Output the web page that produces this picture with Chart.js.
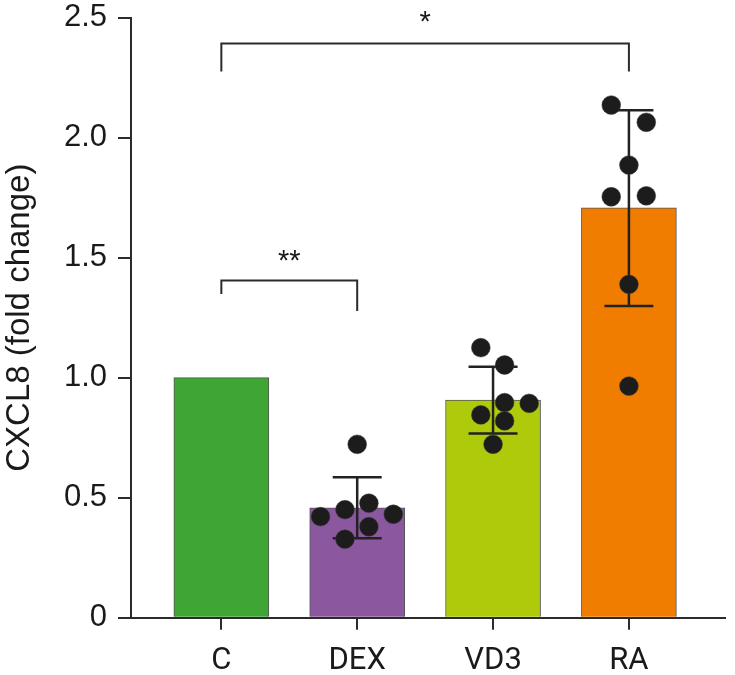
<!DOCTYPE html>
<html><head><meta charset="utf-8">
<script src="https://cdn.jsdelivr.net/npm/chart.js@4.4.1/dist/chart.umd.min.js"></script>
<style>html,body{margin:0;padding:0;background:#fff}#wrap{width:735px;height:675px;position:relative}</style>
</head><body><div id="wrap"><canvas id="c"></canvas></div>
<script>
// ---- data ----
const categories = ['C', 'DEX', 'VD3', 'RA'];
const barMeans = [1.0, 0.458, 0.907, 1.708];
const barColors = ['#3fa535', '#8b579f', '#afca0a', '#f07d00'];
const errHigh = [null, 0.585, 1.046, 2.114];
const errLow = [null, 0.331, 0.768, 1.299];
// individual points: category index, horizontal jitter (category units), value
const dotGroup = [1,1,1,1,1,1,1, 2,2,2,2,2,2,2, 3,3,3,3,3,3,3];
const dotJitter = [0,-0.09,0.086,-0.27,0.266,0.086,-0.09, -0.09,0.085,0.085,0.266,-0.09,0.085,0, -0.13,0.128,0,-0.13,0.128,0,0];
const dotValues = [0.7225,0.45,0.477,0.421,0.431,0.379,0.327, 1.125,1.053,0.896,0.893,0.845,0.82,0.7225, 2.136,2.064,1.886,1.754,1.758,1.389,0.965];
const yTicks = [0, 0.5, 1.0, 1.5, 2.0, 2.5];
// significance brackets
const bracketFrom = [0, 0];
const bracketTo = [3, 1];
const bracketTop = [2.393, 1.405];
const bracketLeftEnd = [2.276, 1.349];
const bracketRightEnd = [2.276, 1.278];
const sigLabels = ['*', '**'];
const sigLabelY = [2.503, 1.511];

// ---- build datasets ----
const barData = categories.map((c, i) => ({ x: i, y: barMeans[i] }));
const dotData = dotValues.map((v, i) => ({ x: dotGroup[i] + dotJitter[i], y: v }));
const bracketSets = bracketFrom.map((f, i) => ({
  type: 'line',
  data: [{ x: f, y: bracketLeftEnd[i] }, { x: f, y: bracketTop[i] }, { x: bracketTo[i], y: bracketTop[i] }, { x: bracketTo[i], y: bracketRightEnd[i] }],
  borderColor: '#2b2b2b', borderWidth: 2, pointRadius: 0, tension: 0, fill: false,
  borderCapStyle: 'butt', borderJoinStyle: 'miter', order: 0, clip: false
}));

const errorBarPlugin = {
  id: 'errbars',
  beforeDatasetDraw(chart, args) {
    if (args.index !== 1) return;
    const { ctx } = chart; const x = chart.scales.x, y = chart.scales.y;
    ctx.save();
    ctx.strokeStyle = '#222'; ctx.lineWidth = 2.5; ctx.lineCap = 'butt';
    categories.forEach((c, i) => {
      if (errHigh[i] == null) return;
      const px = x.getPixelForValue(i), yh = y.getPixelForValue(errHigh[i]), yl = y.getPixelForValue(errLow[i]);
      ctx.beginPath();
      ctx.moveTo(px, yh); ctx.lineTo(px, yl);
      ctx.moveTo(px - 24.5, yh); ctx.lineTo(px + 24.5, yh);
      ctx.moveTo(px - 24.5, yl); ctx.lineTo(px + 24.5, yl);
      ctx.stroke();
    });
    ctx.restore();
  }
};

const sigPlugin = {
  id: 'sig',
  afterDraw(chart) {
    const { ctx } = chart; const x = chart.scales.x, y = chart.scales.y;
    ctx.save();
    ctx.fillStyle = '#1a1a1a';
    ctx.font = '29px "Liberation Sans"';
    ctx.textAlign = 'center'; ctx.textBaseline = 'alphabetic';
    sigLabels.forEach((t, i) => {
      const cx = x.getPixelForValue((bracketFrom[i] + bracketTo[i]) / 2);
      const cy = y.getPixelForValue(sigLabelY[i]);
      const m = ctx.measureText(t);
      const off = (m.actualBoundingBoxAscent - m.actualBoundingBoxDescent) / 2;
      ctx.fillText(t, cx, cy + off);
    });
    ctx.restore();
  }
};

new Chart(document.getElementById('c'), {
  type: 'bar',
  data: {
    datasets: [
      { type: 'bar', data: barData, backgroundColor: barColors, borderColor: '#555', borderWidth: 1, barThickness: 95, order: 3 },
      { type: 'scatter', data: dotData, backgroundColor: '#1c1c1c', borderColor: '#3a3a3a', borderWidth: 0.5, pointRadius: 9.4, order: 1, clip: false },
      ...bracketSets
    ]
  },
  options: {
    responsive: true, maintainAspectRatio: false, animation: false,
    layout: { padding: { top: 17.7, left: 0, right: 0, bottom: 0 } },
    plugins: { legend: { display: false }, tooltip: { enabled: false } },
    scales: {
      x: {
        type: 'linear', min: -0.665, max: 3.708, offset: false,
        afterBuildTicks: s => { s.ticks = categories.map((_, i) => ({ value: i })); },
        afterFit: s => { s.height = 57.3; s.paddingLeft = 0; s.paddingRight = 0; },
        grid: { offset: false, drawOnChartArea: false, drawTicks: true, tickLength: 12, color: '#2b2b2b', lineWidth: 2 },
        border: { display: true, color: '#2b2b2b', width: 2 },
        ticks: { callback: v => categories[v], font: { family: 'Roboto', size: 31 }, color: '#1a1a1a', padding: 13, maxRotation: 0, autoSkip: false }
      },
      y: {
        min: 0, max: 2.5,
        afterBuildTicks: s => { s.ticks = yTicks.map(v => ({ value: v })); },
        afterFit: s => { s.width = 131; s.paddingTop = 0; s.paddingBottom = 0; },
        grid: { drawOnChartArea: false, drawTicks: true, tickLength: 13, color: '#2b2b2b', lineWidth: 2 },
        border: { display: true, color: '#2b2b2b', width: 2 },
        ticks: { callback: v => v === 0 ? '0' : v.toFixed(1), font: { family: 'Liberation Sans', size: 31, lineHeight: 1 }, color: '#1a1a1a', padding: 11 },
        title: { display: true, text: 'CXCL8 (fold change)', font: { family: 'Liberation Sans', size: 33, lineHeight: 1.2 }, color: '#1a1a1a', padding: 0 }
      }
    }
  },
  plugins: [errorBarPlugin, sigPlugin]
});
</script></body></html>
